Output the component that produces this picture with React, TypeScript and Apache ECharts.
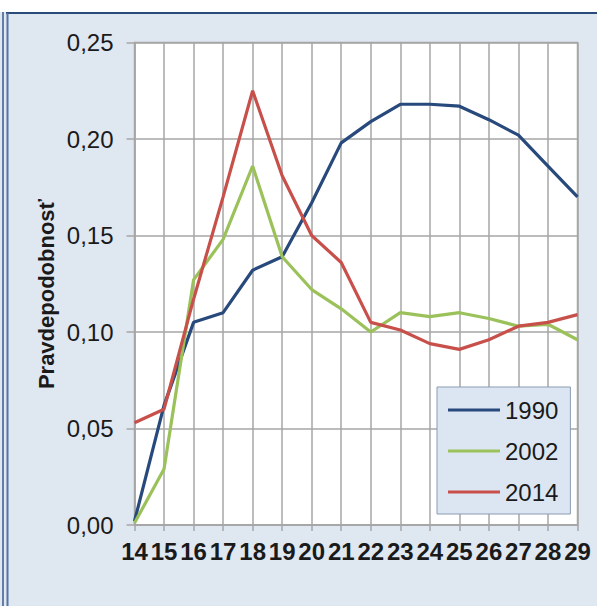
import React, { useEffect, useRef } from "react";
import * as echarts from "echarts";

const ages = ["14", "15", "16", "17", "18", "19", "20", "21", "22", "23", "24", "25", "26", "27", "28", "29"];
const s1990 = [0.002, 0.062, 0.105, 0.110, 0.132, 0.139, 0.167, 0.198, 0.209, 0.218, 0.218, 0.217, 0.210, 0.202, 0.186, 0.170];
const s2002 = [0.001, 0.029, 0.127, 0.148, 0.186, 0.139, 0.122, 0.112, 0.100, 0.110, 0.108, 0.110, 0.107, 0.103, 0.104, 0.096];
const s2014 = [0.053, 0.060, 0.117, 0.170, 0.225, 0.181, 0.150, 0.136, 0.105, 0.101, 0.094, 0.091, 0.096, 0.103, 0.105, 0.109];
const seriesNames = ["1990", "2002", "2014"];
const yTitle = "Pravdepodobnosť";

const FONT = "'Liberation Sans', Arial, sans-serif";

export default function App() {
  const ref = useRef<HTMLDivElement>(null);
  useEffect(() => {
    if (!ref.current) return;
    const chart = echarts.init(ref.current, undefined, { renderer: "svg" });
    const lineStyle = (c: string) => ({ width: 3.2, color: c });
    chart.setOption({
      animation: false,
      backgroundColor: "#dfe7f1",
      textStyle: { fontFamily: FONT },
      grid: {
        left: 134.5,
        right: 19.5,
        top: 42.5,
        bottom: 81,
        show: true,
        backgroundColor: "#ffffff",
        borderColor: "#a6a6a6",
        borderWidth: 1.5,
      },
      legend: {
        orient: "vertical",
        left: 437,
        top: 387,
        padding: [11, 12, 10, 11],
        itemGap: 17,
        itemWidth: 52,
        itemHeight: 3,
        itemTextGap: 4,
        icon: "rect",
        backgroundColor: "#dce6f2",
        borderColor: "#8a9bb3",
        borderWidth: 1,
        borderRadius: 0,
        textStyle: { fontSize: 24, color: "#1a1a1a", fontFamily: FONT },
        data: seriesNames,
      },
      xAxis: {
        type: "category",
        data: ages,
        boundaryGap: false,
        axisLine: { show: true, lineStyle: { color: "#a6a6a6", width: 1.5 } },
        axisTick: { show: true, length: 6, interval: 0, lineStyle: { color: "#a6a6a6", width: 1.5 } },
        axisLabel: { interval: 0, fontSize: 24, fontWeight: "bold", color: "#1a1a1a", margin: 14, fontFamily: FONT },
        splitLine: { show: true, interval: 0, lineStyle: { color: "#a6a6a6", width: 1.5 } },
      },
      yAxis: {
        type: "value",
        min: 0,
        max: 0.25,
        interval: 0.05,
        axisLine: { show: true, lineStyle: { color: "#a6a6a6", width: 1.5 } },
        axisTick: { show: true, length: 8, lineStyle: { color: "#a6a6a6", width: 1.5 } },
        axisLabel: {
          fontSize: 24,
          color: "#1a1a1a",
          margin: 21,
          fontFamily: FONT,
          formatter: (v: number) => v.toFixed(2).replace(".", ","),
        },
        splitLine: { show: true, lineStyle: { color: "#a6a6a6", width: 1.5 } },
      },
      graphic: [
        { type: "rect", shape: { x: 0, y: 0, width: 597, height: 12 }, style: { fill: "#ffffff" }, silent: true },
        { type: "line", shape: { x1: 6, y1: 13, x2: 597, y2: 13 }, style: { stroke: "#2a4a7a", lineWidth: 2 }, silent: true },
        { type: "line", shape: { x1: 3, y1: 12, x2: 3, y2: 606 }, style: { stroke: "#3a5a8c", lineWidth: 1.5 }, silent: true },
        { type: "line", shape: { x1: 7.5, y1: 13, x2: 7.5, y2: 606 }, style: { stroke: "#5474a4", lineWidth: 2 }, silent: true },
        {
          type: "text",
          x: 46,
          y: 294,
          rotation: Math.PI / 2,
          style: {
            text: yTitle,
            fontSize: 22,
            fontWeight: "bold",
            fontFamily: FONT,
            fill: "#1a1a1a",
            textAlign: "center",
            textVerticalAlign: "middle",
          },
        },
      ],
      series: [
        { name: seriesNames[0], type: "line", data: s1990, showSymbol: false, symbol: "none", lineStyle: lineStyle("#28497c"), itemStyle: { color: "#28497c" } },
        { name: seriesNames[1], type: "line", data: s2002, showSymbol: false, symbol: "none", lineStyle: lineStyle("#9bc15a"), itemStyle: { color: "#9bc15a" } },
        { name: seriesNames[2], type: "line", data: s2014, showSymbol: false, symbol: "none", lineStyle: lineStyle("#c8504b"), itemStyle: { color: "#c8504b" } },
      ],
    });
    return () => chart.dispose();
  }, []);
  return <div ref={ref} style={{ position: "fixed", left: 0, top: 0, width: 597, height: 606 }} />;
}
